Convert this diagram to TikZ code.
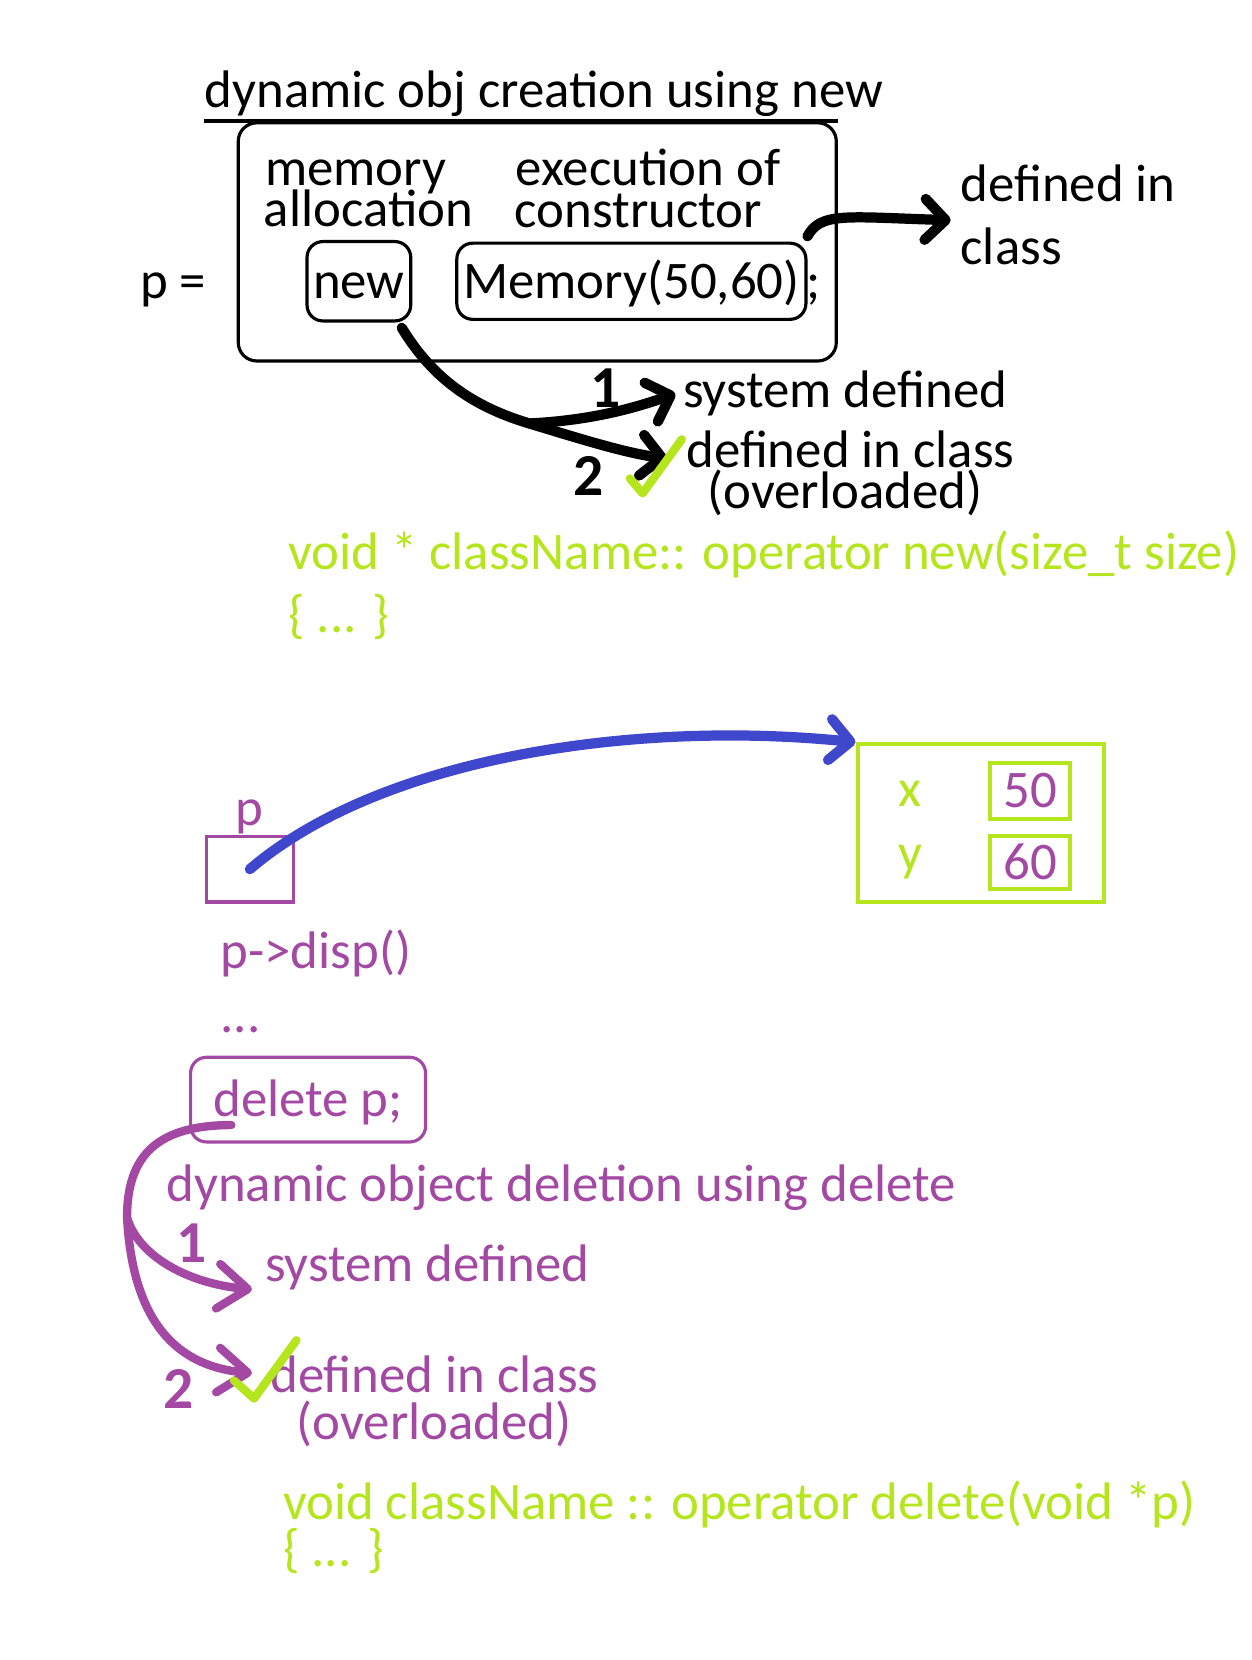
\documentclass[tikz,border=0pt]{standalone}
\usepackage{fontspec}
\setmainfont{Carlito}
\usetikzlibrary{arrows.meta}

\definecolor{paintgreen}{HTML}{B5E61D}
\definecolor{paintpurple}{HTML}{A349A4}
\definecolor{paintblue}{HTML}{3F48CC}

\tikzset{
  txt/.style={anchor=base west,inner sep=0pt,font=\fontsize{28.4}{30}\selectfont},
  codebox/.style={draw,rounded corners=0.3cm,line width=1.7pt,inner sep=0pt,
    text height=20pt,text depth=1.4pt,font=\fontsize{28.4}{30}\selectfont},
  cellbox/.style={draw=paintgreen,line width=2.2pt,inner sep=0pt,text height=17.6pt,
    text depth=0pt,text=paintpurple,font=\fontsize{28.4}{30}\selectfont},
  handarrow/.style={line width=5.5pt,line cap=round,line join=round,
    -{Straight Barb[round,length=11pt,width=22pt]}},
  digit/.style={inner sep=0pt,font=\fontsize{32}{32}\selectfont\bfseries},
  tick/.style={draw=paintgreen,line width=4.5pt,line cap=round,line join=round}
}

\begin{document}
\begin{tikzpicture}[x=0.02cm,y=-0.02cm]
  \useasboundingbox (0,0) rectangle (1182,1568);

  % creation with new
  \node[txt] (title) at (193,102) {dynamic obj creation using new};
  \draw[line width=2.2pt] (193,114) -- (792,114);
  \node[draw,rounded corners=0.35cm,line width=1.7pt,minimum width=11.3cm,
    minimum height=4.5cm] (alloc) at (507.5,228.5) {};
  \node[txt] (memlbl) at (250,175) {memory};
  \node[txt] (alloclbl) at (249,214) {allocation};
  \node[txt] (execlbl) at (487,175) {execution of};
  \node[txt] (ctorlbl) at (486,215) {constructor};
  \node[txt] (plbl) at (132,282) {p =};
  \node[codebox,anchor=base,minimum width=1.96cm,minimum height=1.5cm] (newop) at (339,282) {new};
  \node[codebox,anchor=base west,inner xsep=0.12cm,minimum height=1.44cm] (ctor) at (430,282) {Memory(50,60)};
  \node[txt,xshift=-1pt] (semi) at (ctor.base east) {;};
  \node[txt] (defin) at (907,190) {defined in};
  \node[txt] (defcls) at (907,250) {class};
  \node[txt] (sysdef) at (645,385) {system defined};
  \node[txt] (clsdef) at (648,442) {defined in class};
  \node[txt] (ovl) at (668,480) {(overloaded)};
  \node[digit] (one) at (572,367) {1};
  \node[digit] (two) at (556,450) {2};
  \node[txt,text=paintgreen] (newsig) at (272,538) {void * className:: operator new(size\_t size)};
  \node[txt,text=paintgreen] (newbody) at (272,597) {\{ ... \}};

  \coordinate (clsarr) at (898,208);
  \coordinate (split) at (500,400);
  \coordinate (sysarr) at (638,372);
  \coordinate (ovlarr) at (630,433);
  \draw[handarrow] ([yshift=0.1cm]ctor.north east) .. controls (775,200) and (800,205) .. (clsarr);
  \draw[handarrow] ([xshift=-0.2cm,yshift=-0.1cm]newop.south east) .. controls (410,360) and (450,385) .. (split)
    .. controls (540,412) and (590,428) .. (ovlarr);
  \draw[handarrow] (split) .. controls (560,397) and (600,385) .. (sysarr);
  \draw[tick] (595,452) -- (607,466) -- (644,415);

  % object in memory
  \node[draw=paintpurple,line width=1.7pt,minimum width=1.64cm,minimum height=1.24cm,
    label={[txt,anchor=south,text=paintpurple,inner sep=0pt]above:p}] (pcell) at (236,821) {};
  \node[draw=paintgreen,line width=2.2pt,minimum width=4.66cm,minimum height=2.98cm] (objbox) at (926.5,777.5) {};
  \node[txt,text=paintgreen] (xlbl) at (848,762) {x};
  \node[txt,text=paintgreen] (ylbl) at (848,822) {y};
  \node[cellbox,minimum width=1.52cm,minimum height=1.06cm] (xval) at (973,747.5) {50};
  \node[cellbox,minimum width=1.52cm,minimum height=1.0cm] (yval) at (973,815) {60};
  \draw[handarrow,paintblue,line width=5.5pt] (pcell.center) .. controls (360,715) and (600,680) .. (objbox.north west);

  % deletion with delete
  \node[txt,text=paintpurple] (disp) at (208,915) {p->disp()};
  \node[txt,text=paintpurple] (dots) at (208,975) {...};
  \node[codebox,draw=paintpurple,text=paintpurple,anchor=base,minimum width=4.44cm,
    minimum height=1.6cm] (delbox) at (291,1055) {delete p;};
  \node[txt,text=paintpurple] (deltitle) at (157,1135) {dynamic object deletion using delete};
  \node[txt,text=paintpurple] (delsys) at (250,1210) {system defined};
  \node[txt,text=paintpurple] (delcls) at (255,1315) {defined in class};
  \node[txt,text=paintpurple] (delovl) at (280,1360) {(overloaded)};
  \node[digit,text=paintpurple] (pone) at (181,1174) {1};
  \node[digit,text=paintpurple] (ptwo) at (169,1312) {2};
  \node[txt,text=paintgreen] (delsig) at (267,1435) {void className :: operator delete(void *p)};
  \node[txt,text=paintgreen] (delbody) at (267,1480) {\{ ... \}};

  \coordinate (split2) at (120,1150);
  \coordinate (delsysarr) at (238,1218);
  \coordinate (delclsarr) at (238,1297);
  \draw[handarrow,paintpurple,line width=4.5pt,-{Straight Barb[round,length=16pt,width=24pt]}]
    ([xshift=0.8cm,yshift=0.35cm]delbox.south west) .. controls (150,1063) and (120,1090) .. (split2)
    .. controls (125,1240) and (160,1290) .. (delclsarr);
  \draw[handarrow,paintpurple,line width=4.5pt,-{Straight Barb[round,length=16pt,width=24pt]}]
    (split2) .. controls (130,1185) and (175,1212) .. (delsysarr);
  \draw[tick] (221,1304) -- (240,1321) -- (280,1266);
\end{tikzpicture}
\end{document}
